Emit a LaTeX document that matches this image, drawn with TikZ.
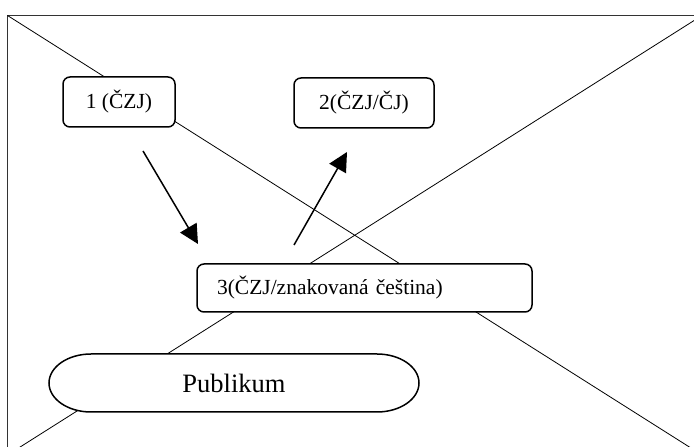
\documentclass[tikz,border=0pt]{standalone}
\usepackage{fontspec}
\setmainfont{Liberation Serif}
\usetikzlibrary{arrows.meta,calc}

\tikzset{
  frameline/.style={line width=0.9pt, draw=black!80},
  crossline/.style={line width=0.8pt, draw=black},
  boxline/.style={line width=1.5pt, draw=black},
  roundbox/.style={boxline, fill=white, rounded corners=7pt, inner sep=0pt,
    font=\fontsize{21.5}{26}\selectfont},
  pubtext/.style={inner sep=0pt, font=\fontsize{26.5}{30}\selectfont},
  flowarrow/.style={line width=1.5pt, -{Triangle[length=19pt,width=19pt]}}
}

\begin{document}
\begin{tikzpicture}[x=1pt,y=1pt]
  \useasboundingbox (0,0) rectangle (694,447);
  \clip (0,0) rectangle (694,447);

  % outer frame with its two diagonals
  \coordinate (tl) at (7.5,431.5);
  \coordinate (tr) at (702,431.5);
  \coordinate (bl) at (7.5,-8);
  \coordinate (br) at (702,-8);
  \draw[frameline] (tl) -- (tr) -- (br) -- (bl) -- cycle;
  \draw[crossline] (tl) -- (br);
  \draw[crossline] (tr) -- (bl);

  % participants
  \node[roundbox, minimum width=112pt, minimum height=50pt] (one) at (119,345) {1 (ČZJ)};
  \node[roundbox, minimum width=140pt, minimum height=50pt] (two) at (364,344) {2(ČZJ/ČJ)};
  \node[roundbox, minimum height=48pt, text width=295pt, align=left, inner xsep=20pt]
    (three) at (364.5,159) {3(ČZJ/znakovaná čeština)};

  % audience: a band with elliptical ends
  \coordinate (pc) at (234,64);
  \draw[boxline, fill=white]
    ($(pc)+(-143,29)$) -- ($(pc)+(143,29)$)
    arc[start angle=90, end angle=-90, x radius=42, y radius=29]
    -- ($(pc)+(-143,-29)$)
    arc[start angle=270, end angle=90, x radius=42, y radius=29] -- cycle;
  \node[pubtext] (pub) at (pc) {Publikum};

  % interpreting directions
  \coordinate (a1s) at (143,296);
  \coordinate (a1e) at (198,203);
  \coordinate (a2s) at (294,202);
  \coordinate (a2e) at (347,295);
  \draw[flowarrow] (a1s) -- (a1e);
  \draw[flowarrow] (a2s) -- (a2e);
\end{tikzpicture}
\end{document}
